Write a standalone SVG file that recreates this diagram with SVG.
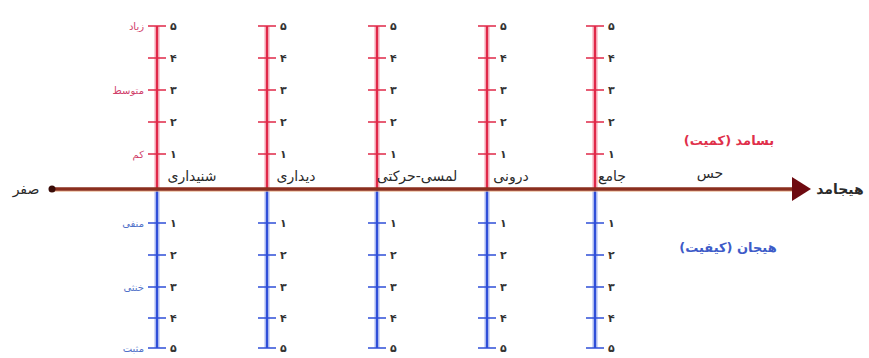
<svg xmlns="http://www.w3.org/2000/svg" width="869" height="358" viewBox="0 0 869 358">
<style>
text{font-family:"DejaVu Sans",sans-serif;}
.red{stroke:#E02848;stroke-width:2.5;fill:none;}
.redglow{stroke:#F5A0B0;stroke-width:6;fill:none;opacity:0.5;}
.blue{stroke:#2F4FD8;stroke-width:2.5;fill:none;}
.blueglow{stroke:#A8B8F0;stroke-width:6;fill:none;opacity:0.5;}
.tick{stroke-width:1.6;}
.num{font-size:11px;font-weight:bold;fill:#333;}
.sense{font-size:14px;fill:#2a2a2a;}
.lr{font-size:10px;fill:#D0406A;}
.lb{font-size:10px;fill:#5070C8;}
</style>
<rect width="869" height="358" fill="#fff"/>

<g id="scales">
<g id="s1">
<path class="redglow" d="M157 26V189"/><path class="blueglow" d="M157 189V348"/>
<path class="red" d="M157 26V189"/>
<path class="red tick" d="M148 26H166M148 58H166M148 90H166M148 122H166M148 154H166"/>
<path class="blue" d="M157 189V348"/>
<path class="blue tick" d="M148 223H166M148 255H166M148 287H166M148 318H166M148 348H166"/>
</g>
<g id="s2">
<path class="redglow" d="M267 26V189"/><path class="blueglow" d="M267 189V348"/>
<path class="red" d="M267 26V189"/>
<path class="red tick" d="M258 26H276M258 58H276M258 90H276M258 122H276M258 154H276"/>
<path class="blue" d="M267 189V348"/>
<path class="blue tick" d="M258 223H276M258 255H276M258 287H276M258 318H276M258 348H276"/>
</g>
<g id="s3">
<path class="redglow" d="M377 26V189"/><path class="blueglow" d="M377 189V348"/>
<path class="red" d="M377 26V189"/>
<path class="red tick" d="M368 26H386M368 58H386M368 90H386M368 122H386M368 154H386"/>
<path class="blue" d="M377 189V348"/>
<path class="blue tick" d="M368 223H386M368 255H386M368 287H386M368 318H386M368 348H386"/>
</g>
<g id="s4">
<path class="redglow" d="M487 26V189"/><path class="blueglow" d="M487 189V348"/>
<path class="red" d="M487 26V189"/>
<path class="red tick" d="M478 26H496M478 58H496M478 90H496M478 122H496M478 154H496"/>
<path class="blue" d="M487 189V348"/>
<path class="blue tick" d="M478 223H496M478 255H496M478 287H496M478 318H496M478 348H496"/>
</g>
<g id="s5">
<path class="redglow" d="M595 26V189"/><path class="blueglow" d="M595 189V348"/>
<path class="red" d="M595 26V189"/>
<path class="red tick" d="M586 26H604M586 58H604M586 90H604M586 122H604M586 154H604"/>
<path class="blue" d="M595 189V348"/>
<path class="blue tick" d="M586 223H604M586 255H604M586 287H604M586 318H604M586 348H604"/>
</g>
</g>

<g id="numbers" class="num">
<g id="n-red">
<text x="170" y="30">۵</text><text x="170" y="62">۴</text><text x="170" y="94">۳</text><text x="170" y="126">۲</text><text x="170" y="158">۱</text>
<text x="280" y="30">۵</text><text x="280" y="62">۴</text><text x="280" y="94">۳</text><text x="280" y="126">۲</text><text x="280" y="158">۱</text>
<text x="390" y="30">۵</text><text x="390" y="62">۴</text><text x="390" y="94">۳</text><text x="390" y="126">۲</text><text x="390" y="158">۱</text>
<text x="500" y="30">۵</text><text x="500" y="62">۴</text><text x="500" y="94">۳</text><text x="500" y="126">۲</text><text x="500" y="158">۱</text>
<text x="608" y="30">۵</text><text x="608" y="62">۴</text><text x="608" y="94">۳</text><text x="608" y="126">۲</text><text x="608" y="158">۱</text>
</g>
<g id="n-blue">
<text x="170" y="227">۱</text><text x="170" y="259">۲</text><text x="170" y="291">۳</text><text x="170" y="322">۴</text><text x="170" y="352">۵</text>
<text x="280" y="227">۱</text><text x="280" y="259">۲</text><text x="280" y="291">۳</text><text x="280" y="322">۴</text><text x="280" y="352">۵</text>
<text x="390" y="227">۱</text><text x="390" y="259">۲</text><text x="390" y="291">۳</text><text x="390" y="322">۴</text><text x="390" y="352">۵</text>
<text x="500" y="227">۱</text><text x="500" y="259">۲</text><text x="500" y="291">۳</text><text x="500" y="322">۴</text><text x="500" y="352">۵</text>
<text x="608" y="227">۱</text><text x="608" y="259">۲</text><text x="608" y="291">۳</text><text x="608" y="322">۴</text><text x="608" y="352">۵</text>
</g>
</g>

<g id="scale-labels" text-anchor="end">
<text class="lr" x="144" y="30">زیاد</text>
<text class="lr" x="144" y="94">متوسط</text>
<text class="lr" x="144" y="158">کم</text>
<text class="lb" x="144" y="227">منفی</text>
<text class="lb" x="144" y="291">خنثی</text>
<text class="lb" x="144" y="352">مثبت</text>
</g>

<g id="connectors">
<line x1="52" y1="190.5" x2="796" y2="190.5" stroke="#E8B088" stroke-width="3" opacity="0.6"/>
<line x1="52" y1="189" x2="796" y2="189" stroke="#8A2E1E" stroke-width="3.5"/>
<circle cx="52" cy="189" r="3.5" fill="#3A0C08"/>
<polygon points="792,177 811,189 792,201" fill="#6E0A10"/>
</g>

<g id="axis-labels" class="sense" text-anchor="middle">
<text x="192" y="181">شنیداری</text>
<text x="296" y="181">دیداری</text>
<text x="417" y="181">لمسی-حرکتی</text>
<text x="511" y="181">درونی</text>
<text x="612" y="181">جامع</text>
<text x="710" y="178">حس</text>
<text x="26" y="194">صفر</text>
<text x="840" y="194" font-weight="bold">هیجامد</text>
</g>

<g id="titles" text-anchor="middle" font-weight="bold" font-size="13">
<text x="729" y="145" fill="#E0304A" direction="rtl">بسامد (کمیت)</text>
<text x="728" y="252" fill="#3D5BC8" direction="rtl">هیجان (کیفیت)</text>
</g>
</svg>
